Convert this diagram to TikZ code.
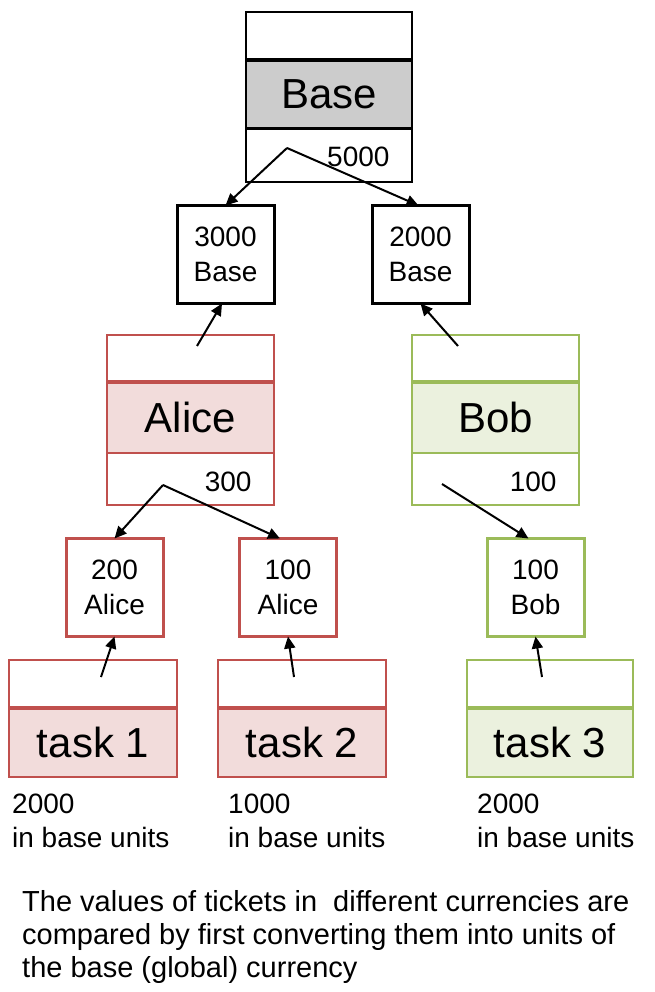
\documentclass[tikz,border=0pt]{standalone}
\usepackage{fontspec}
\setmainfont{Liberation Sans}
\usetikzlibrary{arrows.meta,calc}
\definecolor{redB}{HTML}{C0504D}
\definecolor{redF}{HTML}{F2DCDB}
\definecolor{grnB}{HTML}{9BBB59}
\definecolor{grnF}{HTML}{EBF1DE}
\definecolor{grayF}{HTML}{CCCCCC}
\begin{document}
\begin{tikzpicture}[x=1pt,y=-1pt,
  sect/.style={draw=#1, line width=1.8pt, rectangle, inner sep=0pt, outer sep=0pt},
  bigtxt/.style={font=\fontsize{42}{48}\selectfont},
  smalltxt/.style={font=\fontsize{28}{34}\selectfont},
  tbox/.style={draw=#1, line width=3pt, rectangle, inner sep=0pt, outer sep=0pt,
    minimum width=97pt, minimum height=98pt, align=center,
    font=\fontsize{28}{35}\selectfont},
  divider/.style={draw=#1, line width=4pt},
  arr/.style={line width=2pt, -{Triangle[length=12pt,width=11pt]}}
]
\useasboundingbox (0,0) rectangle (654,992);

% ---------- Base ----------
\node[sect=black, minimum width=166pt, minimum height=47pt] (baseTop) at (329,35.5) {};
\node[sect=black, fill=grayF, minimum width=166pt, minimum height=69pt, bigtxt] (baseMid) at (329,94.5) {Base};
\node[sect=black, minimum width=166pt, minimum height=54pt] (baseBot) at (329,155) {};
\draw[divider=black] (baseMid.north west) -- (baseMid.north east);
\node[smalltxt, anchor=base east] (baseVal) at ($(baseBot.south east)+(-19,-15)$) {5000};
\coordinate (bo) at (287,148);

% ---------- level 1 tickets ----------
\node[tbox=black] (b3000) at (225.5,254.5) {3000\\Base};
\node[tbox=black] (b2000) at (420.5,254.5) {2000\\Base};

% ---------- Alice ----------
\node[sect=redB, minimum width=167pt, minimum height=47pt] (aliceTop) at (190.5,358.5) {};
\node[sect=redB, fill=redF, minimum width=167pt, minimum height=71pt, bigtxt] (aliceMid) at (190.5,417.5) {Alice};
\node[sect=redB, minimum width=167pt, minimum height=52pt] (aliceBot) at (190.5,479) {};
\draw[divider=redB] (aliceMid.north west) -- (aliceMid.north east);
\node[smalltxt, anchor=base east] (aliceVal) at ($(aliceBot.south east)+(-19,-14)$) {300};
\coordinate (as) at (197,346);
\coordinate (ao) at (163,485);

% ---------- Bob ----------
\node[sect=grnB, minimum width=167pt, minimum height=47pt] (bobTop) at (495.5,358.5) {};
\node[sect=grnB, fill=grnF, minimum width=167pt, minimum height=71pt, bigtxt] (bobMid) at (495.5,417.5) {Bob};
\node[sect=grnB, minimum width=167pt, minimum height=52pt] (bobBot) at (495.5,479) {};
\draw[divider=grnB] (bobMid.north west) -- (bobMid.north east);
\node[smalltxt, anchor=base east] (bobVal) at ($(bobBot.south east)+(-19,-14)$) {100};
\coordinate (bs) at (458,346);
\coordinate (bob) at (442,484);

% ---------- level 2 tickets ----------
\node[tbox=redB] (a200) at (114.5,587.5) {200\\Alice};
\node[tbox=redB] (a100) at (288,587.5) {100\\Alice};
\node[tbox=grnB] (b100) at (535.5,587.5) {100\\Bob};

% ---------- tasks ----------
\node[sect=redB, minimum width=168pt, minimum height=48pt] (t1Top) at (93,684) {};
\node[sect=redB, fill=redF, minimum width=168pt, minimum height=69pt, bigtxt] (t1Mid) at (93,742.5) {task 1};
\draw[divider=redB] (t1Mid.north west) -- (t1Mid.north east);
\node[sect=redB, minimum width=168pt, minimum height=48pt] (t2Top) at (302,684) {};
\node[sect=redB, fill=redF, minimum width=168pt, minimum height=69pt, bigtxt] (t2Mid) at (302,742.5) {task 2};
\draw[divider=redB] (t2Mid.north west) -- (t2Mid.north east);
\node[sect=grnB, minimum width=166pt, minimum height=48pt] (t3Top) at (550,684) {};
\node[sect=grnB, fill=grnF, minimum width=166pt, minimum height=69pt, bigtxt] (t3Mid) at (550,742.5) {task 3};
\draw[divider=grnB] (t3Mid.north west) -- (t3Mid.north east);
\coordinate (t1s) at (101,677);
\coordinate (t2s) at (294,677);
\coordinate (t3s) at (542,677);

% ---------- value labels ----------
\node[smalltxt, anchor=base west, align=left, inner sep=0pt] (v1) at (12,847) {2000\\in base units};
\node[smalltxt, anchor=base west, align=left, inner sep=0pt] (v2) at (228,847) {1000\\in base units};
\node[smalltxt, anchor=base west, align=left, inner sep=0pt] (v3) at (477,847) {2000\\in base units};

\node[font=\fontsize{29}{33}\selectfont, anchor=base west, align=left, inner sep=0pt] (note) at (22,977)
  {The values of tickets in \ different currencies are\\compared by first converting them into units of\\the base (global) currency};

% ---------- arrows ----------
\draw[arr] (bo) -- (b3000.north);
\draw[arr] (bo) -- ($(b2000.north)+(-2,0)$);
\draw[arr] (as) -- ($(b3000.south)+(-3.5,0)$);
\draw[arr] (bs) -- (b2000.south);
\draw[arr] (ao) -- (a200.north);
\draw[arr] (ao) -- ($(a100.north)+(-8,0)$);
\draw[arr] (bob) -- ($(b100.north)+(-7,0)$);
\draw[arr] (t1s) -- (a200.south);
\draw[arr] (t2s) -- (a100.south);
\draw[arr] (t3s) -- (b100.south);
\end{tikzpicture}
\end{document}
